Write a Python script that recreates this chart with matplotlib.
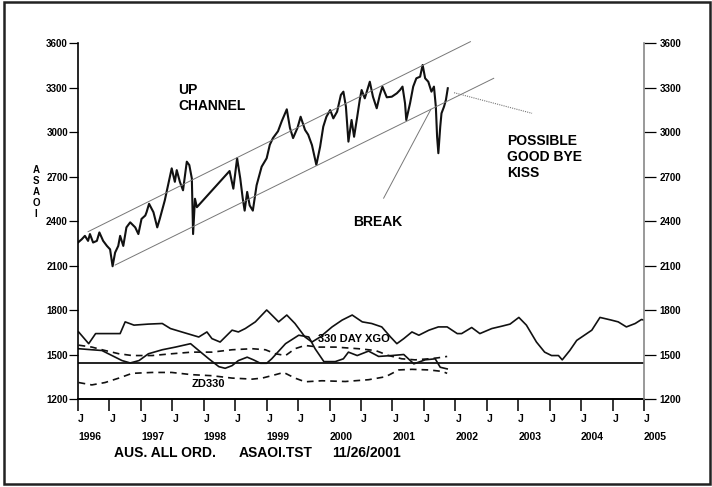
import numpy as np
import matplotlib.pyplot as plt
from matplotlib.patches import Rectangle
from matplotlib.transforms import blended_transform_factory

plt.rcParams['font.family'] = ['Liberation Sans', 'DejaVu Sans']
plt.rcParams['font.weight'] = 'bold'

# time axis is years since Jan 1996
price_t = [0.00, 0.06, 0.11, 0.16, 0.19, 0.24, 0.30, 0.34, 0.40, 0.46, 0.51, 0.55, 0.59, 0.64,
           0.67, 0.72, 0.77, 0.83, 0.91, 0.96, 1.01, 1.07, 1.09, 1.13, 1.20, 1.26, 1.30, 1.38,
           1.42, 1.49, 1.54, 1.57, 1.62, 1.67, 1.73, 1.77, 1.81, 1.83, 1.86, 1.89, 2.41, 2.47,
           2.53, 2.58, 2.62, 2.65, 2.69, 2.73, 2.78, 2.84, 2.92, 3.00, 3.05, 3.10, 3.18, 3.24,
           3.32, 3.37, 3.42, 3.49, 3.54, 3.61, 3.66, 3.72, 3.79, 3.85, 3.90, 3.95, 4.01, 4.06,
           4.12, 4.18, 4.22, 4.26, 4.30, 4.35, 4.39, 4.44, 4.48, 4.51, 4.56, 4.64, 4.69, 4.75,
           4.80, 4.84, 4.91, 4.99, 5.07, 5.12, 5.16, 5.20, 5.22, 5.28, 5.33, 5.38, 5.44, 5.48,
           5.52, 5.57, 5.62, 5.66, 5.69, 5.71, 5.73, 5.76, 5.78, 5.82, 5.85, 5.88]
price = [2257, 2279, 2302, 2268, 2314, 2257, 2268, 2325, 2268, 2234, 2211, 2097, 2189, 2234,
         2302, 2234, 2359, 2393, 2359, 2314, 2416, 2439, 2461, 2518, 2461, 2359, 2416, 2541,
         2620, 2757, 2666, 2745, 2666, 2609, 2802, 2779, 2689, 2314, 2552, 2495, 2739, 2620,
         2825, 2689, 2552, 2472, 2598, 2507, 2472, 2643, 2768, 2825, 2916, 2961, 3007, 3075,
         3155, 3030, 2961, 3030, 3105, 3016, 2984, 2914, 2780, 2903, 3038, 3105, 3150, 3094,
         3139, 3252, 3274, 3173, 2937, 3083, 2970, 3105, 3218, 3285, 3229, 3341, 3240, 3162,
         3252, 3308, 3236, 3240, 3263, 3285, 3308, 3196, 3083, 3196, 3308, 3364, 3375, 3454,
         3364, 3341, 3274, 3308, 3173, 2970, 2859, 3038, 3128, 3173, 3218, 3297]

xgo_t = [0.01, 0.17, 0.28, 0.43, 0.67, 0.75, 0.89, 1.12, 1.34, 1.47, 1.65, 1.92, 2.05, 2.13,
         2.26, 2.45, 2.55, 2.66, 2.82, 3.00, 3.03, 3.19, 3.32, 3.45, 3.61, 3.72, 3.85, 4.04,
         4.20, 4.36, 4.52, 4.67, 4.83, 4.97, 5.07, 5.18, 5.31, 5.42, 5.58, 5.73, 5.87, 6.03,
         6.10, 6.26, 6.39, 6.58, 6.74, 6.87, 7.01, 7.13, 7.29, 7.42, 7.53, 7.64, 7.70, 7.82,
         7.93, 8.09, 8.17, 8.30, 8.48, 8.59, 8.72, 8.86, 8.96, 9.00]
xgo = [1654, 1575, 1643, 1643, 1643, 1722, 1700, 1707, 1711, 1677, 1654, 1620, 1654, 1609,
       1586, 1666, 1654, 1677, 1722, 1802, 1790, 1722, 1768, 1711, 1620, 1586, 1620, 1688,
       1734, 1768, 1722, 1711, 1688, 1620, 1575, 1609, 1654, 1632, 1666, 1688, 1688, 1643,
       1643, 1684, 1643, 1677, 1693, 1707, 1752, 1700, 1586, 1518, 1495, 1495, 1466, 1529,
       1597, 1643, 1666, 1752, 1734, 1722, 1688, 1711, 1738, 1734]

upper_dash_t = [0.01, 0.22, 0.43, 0.65, 0.86, 1.18, 1.49, 1.81, 2.13, 2.45, 2.77, 2.98, 3.14,
                3.30, 3.45, 3.61, 3.83, 4.09, 4.46, 4.73, 4.94, 5.15, 5.36, 5.58, 5.73, 5.87]
upper_dash = [1565, 1552, 1529, 1507, 1495, 1495, 1507, 1518, 1518, 1534, 1541, 1534, 1507,
              1495, 1541, 1563, 1552, 1552, 1541, 1529, 1495, 1473, 1466, 1473, 1480, 1489]

osc_t = [0.01, 0.22, 0.38, 0.54, 0.70, 0.83, 0.97, 1.12, 1.34, 1.55, 1.79, 1.92, 2.08, 2.24,
         2.34, 2.45, 2.55, 2.69, 2.79, 2.90, 3.00, 3.08, 3.30, 3.51, 3.67, 3.77, 3.91, 4.09,
         4.22, 4.30, 4.44, 4.62, 4.78, 4.99, 5.18, 5.34, 5.52, 5.68, 5.76, 5.87]
osc = [1541, 1534, 1529, 1495, 1461, 1445, 1461, 1507, 1534, 1552, 1575, 1529, 1473, 1420,
       1409, 1427, 1461, 1484, 1466, 1443, 1443, 1473, 1575, 1632, 1620, 1541, 1454, 1454,
       1473, 1518, 1495, 1525, 1489, 1495, 1502, 1439, 1466, 1473, 1416, 1405]

zd_t = [0.01, 0.22, 0.43, 0.65, 0.86, 1.18, 1.49, 1.81, 2.13, 2.45, 2.77, 2.93, 3.14, 3.27,
        3.45, 3.61, 3.88, 4.25, 4.62, 4.89, 5.10, 5.31, 5.58, 5.79, 5.87]
zd330 = [1313, 1297, 1313, 1343, 1375, 1381, 1381, 1366, 1359, 1343, 1336, 1343, 1366, 1381,
         1343, 1318, 1325, 1320, 1332, 1352, 1398, 1402, 1398, 1388, 1375]

zero_level = 1443

# hand drawn trend lines: (t0, t1), (v0, v1)
channel_top = ([0.16, 6.24], [2330, 3611])
channel_bottom = ([0.59, 6.61], [2105, 3364])
break_line = ([4.86, 5.61], [2556, 3154])
kiss_line = ([5.98, 7.22], [3267, 3128])

years = list(range(1996, 2006))
yticks = list(range(1200, 3601, 300))

W, H = 712, 487
fig = plt.figure(figsize=(W / 100, H / 100), dpi=100)
ax = fig.add_axes([78 / W, 1 - 399.3 / H, (644 - 78) / W, (399.3 - 43.3) / H])
ax.set_xlim(0, 9)
ax.set_ylim(1200, 3600)

ax.plot(price_t, price, color='#111111', lw=1.5)
for (tx, ty) in [channel_top, channel_bottom, break_line]:
    ax.plot(tx, ty, color='#777777', lw=0.7, clip_on=False)
ax.plot(kiss_line[0], kiss_line[1], color='#777777', lw=0.8, ls=(0, (1, 1)))

ax.plot(xgo_t, xgo, color='#111111', lw=1.2)
ax.plot(osc_t, osc, color='#111111', lw=1.2)
ax.plot(upper_dash_t, upper_dash, color='#111111', lw=1.2, ls=(0, (4, 3)))
ax.plot(zd_t, zd330, color='#111111', lw=1.2, ls=(0, (4, 3)))
ax.axhline(zero_level, color='#111111', lw=1.3)

# axes styling
ax.spines['top'].set_visible(False)
ax.spines['right'].set_visible(False)
ax.spines['left'].set_linewidth(1.2)
ax.spines['bottom'].set_linewidth(1.4)
ax.set_yticks(yticks)
ax.set_yticklabels([str(v) for v in yticks])
ax.tick_params(axis='y', length=6.8, width=0.9, pad=0.5, labelsize=7, direction='out')

ax.set_xticks(np.arange(0, 9.01, 0.5))
ax.set_xticklabels(['J'] * 19, ha='left')
ax.tick_params(axis='x', length=8.9, width=1.1, pad=1.5, labelsize=7.5, direction='out')

ax2 = ax.twinx()
ax2.set_ylim(1200, 3600)
ax2.set_yticks(yticks)
ax2.set_yticklabels([str(v) for v in yticks])
ax2.tick_params(axis='y', length=8.6, width=0.9, pad=2.5, labelsize=7, direction='out')
for s in ['top', 'left', 'bottom']:
    ax2.spines[s].set_visible(False)
ax2.spines['right'].set_color('#888888')
ax2.spines['right'].set_linewidth(1.2)

trans = blended_transform_factory(ax.transData, ax.transAxes)
for i, yr in enumerate(years):
    ax.text(i, -0.105, str(yr), transform=trans, ha='left', va='center', fontsize=7.5)

# annotations
ax.text(1.59, 3335, 'UP\nCHANNEL', fontsize=10, va='top', ha='left', linespacing=1.2)
ax.text(6.82, 2990, 'POSSIBLE\nGOOD BYE\nKISS', fontsize=10, va='top', ha='left', linespacing=1.2)
ax.text(4.38, 2440, 'BREAK', fontsize=10, va='top', ha='left')
ax.text(3.82, 1640, '330 DAY XGO', fontsize=8, va='top', ha='left')
ax.text(1.81, 1336, 'ZD330', fontsize=8, va='top', ha='left')

fig.text(36 / W, 1 - 192 / H, 'A\nS\nA\nO\nI', fontsize=7, ha='center', va='center',
         linespacing=1.15)
fig.text(113.6 / W, 1 - 446 / H, 'AUS. ALL ORD.', fontsize=10, va='top')
fig.text(238.6 / W, 1 - 446 / H, 'ASAOI.TST', fontsize=10, va='top')
fig.text(331.8 / W, 1 - 446 / H, '11/26/2001', fontsize=10, va='top')

fig.patches.append(Rectangle((4 / W, 3.5 / H), 705.5 / W, 482 / H, transform=fig.transFigure,
                             fill=False, edgecolor='#222222', lw=1.8))

fig.savefig('out.png', dpi=100)
